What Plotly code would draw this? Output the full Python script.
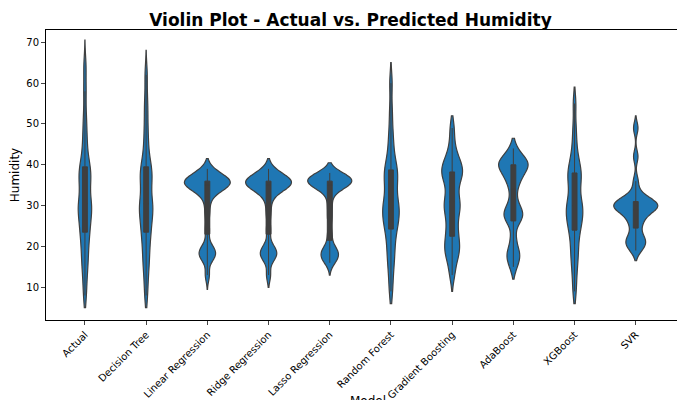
import plotly.graph_objects as go

# Sample values per model
models = ["Actual", "Decision Tree", "Linear Regression", "Ridge Regression",
          "Lasso Regression", "Random Forest", "Gradient Boosting", "AdaBoost",
          "XGBoost", "SVR"]

actual = [8, 12, 15, 17, 19, 21, 23, 24, 25, 27, 28, 29, 30, 30, 31, 33, 35, 36,
          37, 38, 39, 40, 42, 45, 48, 52, 58, 64]
decision_tree = [8, 12, 15, 17, 19, 21, 23, 24, 25, 27, 28, 29, 30, 30, 31, 33, 35,
                 36, 37, 38, 39, 40, 42, 45, 48, 52, 56, 62]
linear_reg = [13, 17, 18, 18, 19, 20, 24, 28, 31, 33, 34, 34, 35, 35, 35, 35, 36,
              36, 36, 36, 37, 37, 37, 38, 39]
ridge_reg = [13, 17, 18, 18, 19, 20, 24, 28, 31, 33, 34, 34, 35, 35, 35, 35, 36,
             36, 36, 36, 37, 37, 37, 38, 39]
lasso_reg = [16, 17, 18, 18, 19, 20, 23, 27, 30, 33, 34, 35, 35, 35, 36, 36, 36,
             36, 36, 37, 37, 37, 38, 38]
random_forest = [9, 13, 16, 18, 20, 22, 24, 25, 26, 27, 28, 29, 30, 30, 31, 33, 35,
                 36, 37, 38, 39, 40, 42, 45, 48, 53, 60]
grad_boost = [13, 16, 18, 19, 20, 21, 23, 24, 26, 28, 29, 30, 31, 32, 34, 36, 37,
              38, 38, 39, 40, 41, 42, 45, 49]
adaboost = [15, 17, 18, 19, 22, 26, 27, 28, 28, 29, 31, 34, 36, 37, 38, 39, 40,
            40, 40, 41, 41, 42, 44]
xgboost = [9, 13, 16, 18, 20, 22, 24, 25, 26, 27, 28, 29, 30, 30, 31, 33, 35, 36,
           37, 38, 39, 40, 42, 45, 49, 55]
svr = [19, 20, 21, 21, 22, 23, 25, 26, 27, 28, 29, 29, 29, 30, 30, 30, 30, 31, 31,
       31, 32, 33, 36, 42, 49]

samples = [actual, decision_tree, linear_reg, ridge_reg, lasso_reg, random_forest,
           grad_boost, adaboost, xgboost, svr]

# Visible extent of each violin in the reference
spans = [[5, 70.5], [5, 68], [9.5, 41.5], [10, 41.5], [13, 40.5], [6, 65],
         [9, 52], [12, 46.5], [6, 59], [16.5, 52]]
# Relative widths (seaborn area normalisation)
widths = [0.22, 0.22, 0.75, 0.75, 0.72, 0.27, 0.34, 0.48, 0.27, 0.72]
bandwidths = [2.8, 2.8, 1.6, 1.6, 1.5, 2.8, 2.3, 1.9, 2.6, 1.5]

fig = go.Figure()
for name, vals, sp, w, bw in zip(models, samples, spans, widths, bandwidths):
    fig.add_trace(go.Violin(
        x=[name] * len(vals), y=vals, name=name,
        fillcolor="#1f77b4", opacity=1,
        line=dict(color="#3f3f3f", width=1.2),
        box=dict(visible=True, fillcolor="#3f3f3f", width=0.08 / w,
                 line=dict(color="#3f3f3f", width=1)),
        meanline=dict(visible=False),
        points=False, width=w, scalemode="width", bandwidth=bw,
        spanmode="manual", span=sp, hoveron="violins", showlegend=False,
    ))

fig.update_layout(
    title=dict(text="<b>Violin Plot - Actual vs. Predicted Humidity</b>",
               x=0.5, y=0.985, font=dict(size=17, color="black")),
    font=dict(family="DejaVu Sans", size=10, color="black"),
    width=685, height=400,
    margin=dict(l=38, r=3, t=22, b=88),
    plot_bgcolor="white", paper_bgcolor="white",
)
fig.update_xaxes(title=dict(text="Model", standoff=2), tickangle=-45,
                 showline=True, linecolor="black", mirror=True, ticks="outside",
                 ticklen=4, showgrid=False, automargin=False)
fig.update_yaxes(title=dict(text="Humidity", standoff=4), range=[2, 73],
                 tickvals=[10, 20, 30, 40, 50, 60, 70], showline=True,
                 linecolor="black", mirror=True, ticks="outside", ticklen=4,
                 showgrid=False, zeroline=False)

fig.write_html("out.html")
